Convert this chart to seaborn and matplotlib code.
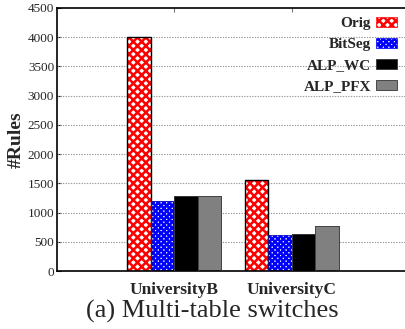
import matplotlib
matplotlib.use("Agg")
import matplotlib.pyplot as plt
from matplotlib.patches import Rectangle, Patch
import seaborn as sns
import pandas as pd

categories = ["UniversityB", "UniversityC"]
methods = ["Orig", "BitSeg", "ALP_WC", "ALP_PFX"]
orig = [4010, 1555]
bitseg = [1200, 610]
alp_wc = [1290, 635]
alp_pfx = [1290, 770]
yticks = [0, 500, 1000, 1500, 2000, 2500, 3000, 3500, 4000, 4500]

rows = []
for m, vals in zip(methods, [orig, bitseg, alp_wc, alp_pfx]):
    for c, v in zip(categories, vals):
        rows.append({"dataset": c, "method": m, "rules": v})
df = pd.DataFrame(rows)

sns.set_style("white")
plt.rcParams["font.family"] = ["Liberation Serif", "DejaVu Serif"]
plt.rcParams["hatch.linewidth"] = 1.8

face = {"Orig": "white", "BitSeg": "white", "ALP_WC": "black", "ALP_PFX": "#808080"}
hatchc = {"Orig": "#ff0000", "BitSeg": "#0000ff"}
hatches = {"Orig": "xxxx", "BitSeg": "xxxxxx"}

fig = plt.figure(figsize=(4.05, 3.29), dpi=100)
ax = fig.add_axes([57 / 405, 58 / 329, 352 / 405, 263 / 329])

sns.barplot(data=df, x="dataset", y="rules", hue="method", order=categories,
            hue_order=methods, palette=face, width=0.8, ax=ax, legend=False,
            saturation=1, zorder=2)

for cont, m in zip(ax.containers, methods):
    for p in cont.patches:
        x, y = p.get_x(), p.get_y()
        w, h = p.get_width(), p.get_height()
        if m in hatchc:
            p.set_facecolor("white")
            p.set_edgecolor(hatchc[m])
            p.set_hatch(hatches[m])
            p.set_linewidth(0)
        else:
            p.set_edgecolor("#333333" if m == "ALP_PFX" else "black")
            p.set_linewidth(0.6)
        ec = "black" if m == "Orig" else ("#2222aa" if m == "BitSeg" else "#444444")
        ax.add_patch(Rectangle((x, y), w, h, fill=False, edgecolor=ec,
                               linewidth=1.0 if m == "Orig" else 0.5, zorder=3))

ax.set_xlim(-1, 2)
ax.set_ylim(0, 4500)
ax.set_yticks(yticks)
ax.set_yticklabels([str(t) for t in yticks], fontsize=9.5)
ax.set_xticks(range(len(categories)))
ax.set_xticklabels(categories, fontsize=12.5, fontweight="bold")
ax.tick_params(axis="x", bottom=False, top=True, direction="in", length=3,
               color="#777777", pad=8)
ax.tick_params(axis="y", left=True, direction="in", length=3, pad=2)
ax.set_xlabel("")
ax.set_ylabel("#Rules", fontsize=14, fontweight="bold", labelpad=2)

for t in yticks[1:-1]:
    ax.axhline(t, color="#9a9a9a", linewidth=0.8, linestyle=(0, (1.2, 1.2)), zorder=1)

for s in ax.spines.values():
    s.set_linewidth(1.2)
    s.set_color("black")

handles = []
for m in methods:
    if m in hatchc:
        handles.append(Patch(facecolor="white", edgecolor=hatchc[m], hatch=hatches[m], linewidth=0.5))
    else:
        handles.append(Patch(facecolor=face[m], edgecolor="#333333", linewidth=0.6))
leg = ax.legend(handles, methods, loc="upper right",
                bbox_to_anchor=((399 - 57) / 352 + 0.012, 0.99),
                markerfirst=False, frameon=False, prop={"weight": "bold", "size": 11},
                handlelength=1.4, handleheight=0.65, labelspacing=0.5, handletextpad=0.3,
                borderaxespad=0.0)

fig.text(212 / 405, 1 - 311 / 329, "(a) Multi-table switches", ha="center", va="center",
         fontsize=19)

fig.savefig("out.png", dpi=100)
